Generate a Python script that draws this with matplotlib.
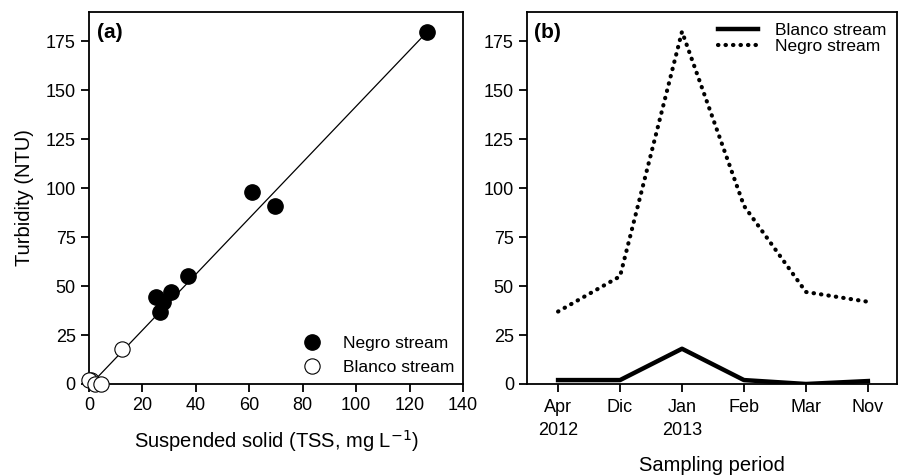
import numpy as np
import matplotlib.pyplot as plt

plt.rcParams['font.family'] = ['Liberation Sans', 'DejaVu Sans']

# === Dados painel (a) ===
negro_tss = [126.5, 61, 69.5, 37, 30.5, 25, 27.5, 26.5]
negro_turb = [180, 98, 91, 55, 47, 44.5, 42, 37]
blanco_tss = [12.5, 0.8, 0.0, 2.3, 4.4]
blanco_turb = [18, 2, 2, 0, 0]
reta_x = [1.5, 126.5]
reta_a, reta_b = 1.43, -1.1  # ajuste linear

# === Dados painel (b) ===
meses = ['Apr\n2012', 'Dic', 'Jan\n2013', 'Feb', 'Mar', 'Nov']
blanco_serie = [2, 2, 18, 2, 0, 1.5]
negro_serie = [37, 55, 180, 91, 47, 42]

fig = plt.figure(figsize=(9.01, 4.75), dpi=100)
ax1 = fig.add_axes([0.0988, 0.1916, 0.4152, 0.7831])
ax2 = fig.add_axes([0.585, 0.1916, 0.4106, 0.7831])

for ax in (ax1, ax2):
    for s in ['top', 'right', 'left', 'bottom']:
        ax.spines[s].set_linewidth(1.3)
    ax.tick_params(direction='out', length=6, width=1.3, labelsize=13,
                   top=False, right=False)
    ax.set_ylim(0, 190)
    ax.set_yticks(np.arange(0, 176, 25))

# --- (a) ---
rx = np.array(reta_x)
ax1.plot(rx, reta_a * rx + reta_b, color='black', lw=0.9)
ax1.plot(negro_tss, negro_turb, 'o', color='black', ms=11, label='Negro stream',
         clip_on=False, zorder=3)
ax1.plot(blanco_tss, blanco_turb, 'o', mfc='white', mec='black', mew=0.8, ms=11,
         label='Blanco stream', clip_on=False, zorder=3)
ax1.set_xlim(0, 140)
ax1.set_xticks(np.arange(0, 141, 20))
ax1.set_xlabel('Suspended solid (TSS, mg L$^{-1}$)', fontsize=14.5, labelpad=10)
ax1.set_ylabel('Turbidity (NTU)', fontsize=14.5, labelpad=8)
ax1.text(0.02, 0.97, '(a)', transform=ax1.transAxes, fontsize=15,
         fontweight='bold', va='top')
ax1.legend(loc='lower right', frameon=False, fontsize=12.5, handletextpad=1.0,
           borderaxespad=0.1, labelspacing=0.5, handlelength=1.6)

# --- (b) ---
x = np.arange(len(meses))
ax2.plot(x, blanco_serie, color='black', lw=3.2, label='Blanco stream')
ax2.plot(x, negro_serie, color='black', lw=3.0, ls=(0, (0.1, 1.7)),
         dash_capstyle='round', label='Negro stream')
ax2.set_xlim(-0.5, 5.47)
ax2.set_xticks(x)
ax2.set_xticklabels(meses, linespacing=1.45)
ax2.tick_params(axis='x', pad=5)
ax2.set_xlabel('Sampling period', fontsize=14.5, labelpad=12)
ax2.text(0.02, 0.97, '(b)', transform=ax2.transAxes, fontsize=15,
         fontweight='bold', va='top')
ax2.legend(loc='upper right', frameon=False, fontsize=12.5, handlelength=2.3,
           handletextpad=1.0, labelspacing=0.05, borderaxespad=0.2)

fig.savefig('out.png', dpi=100)
